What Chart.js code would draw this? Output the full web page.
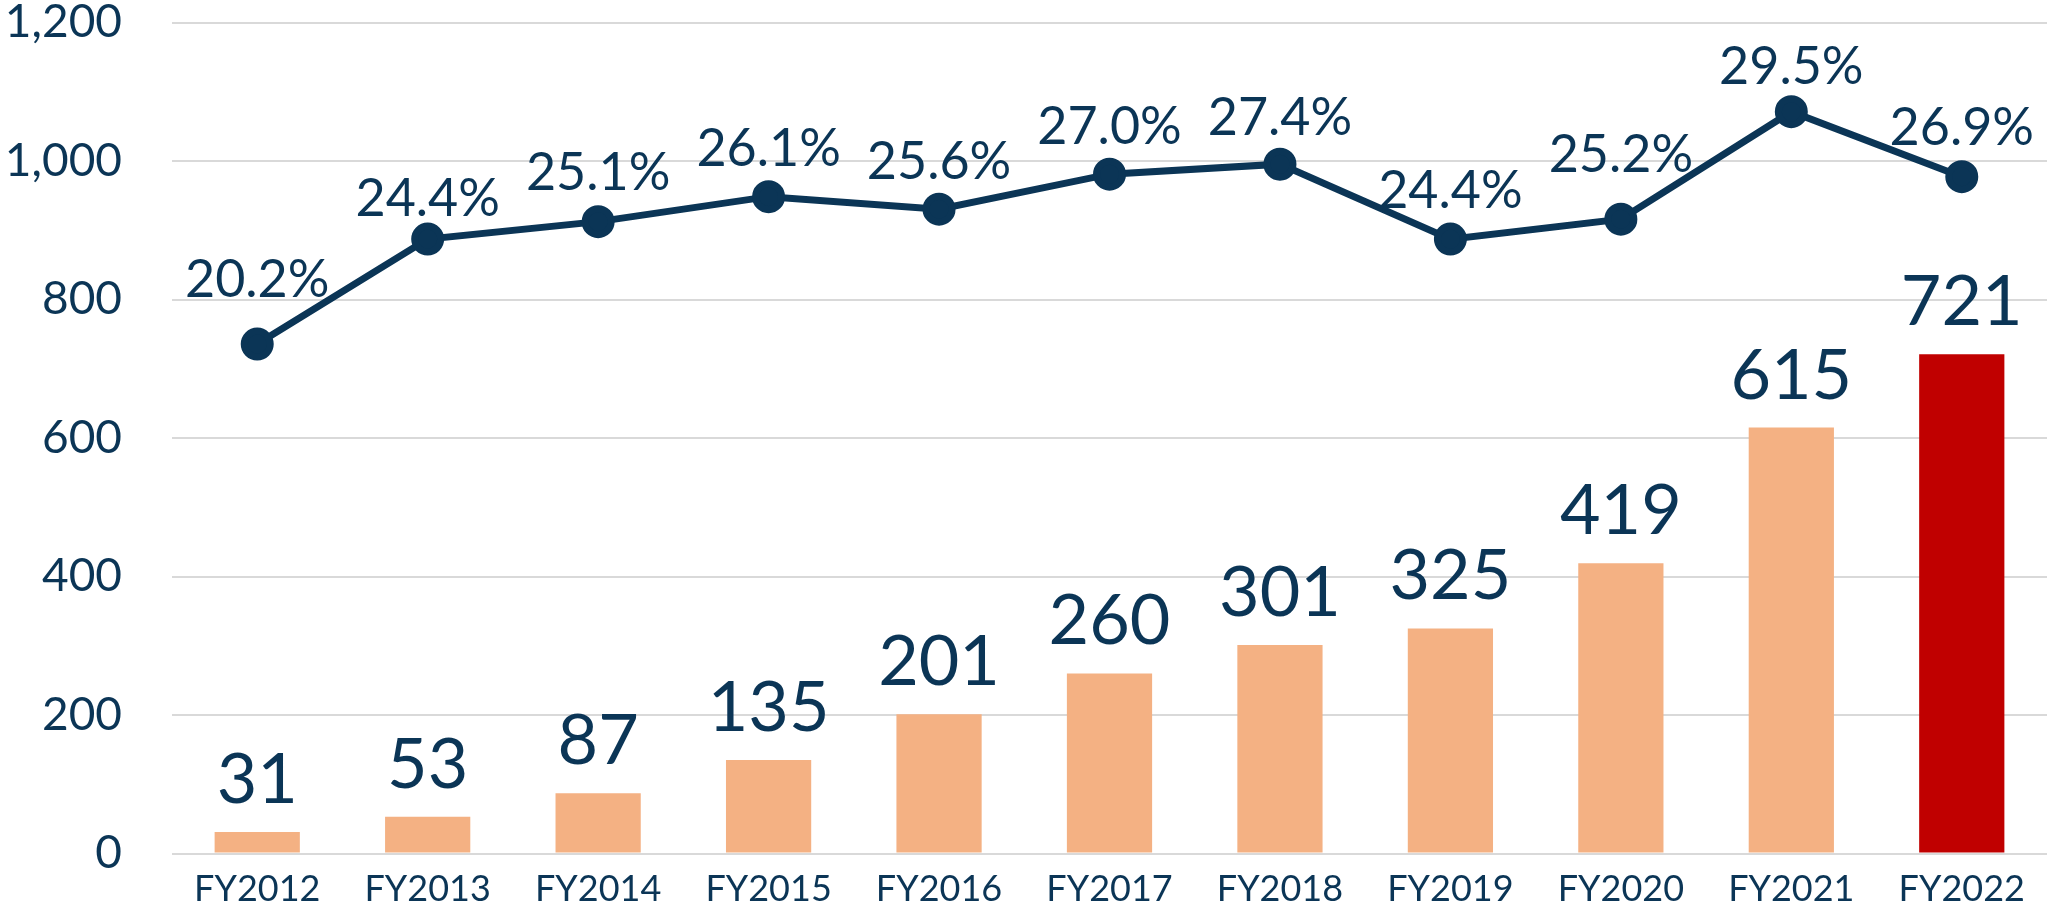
<!DOCTYPE html>
<html>
<head>
<meta charset="utf-8">
<script src="https://cdn.jsdelivr.net/npm/chart.js@4/dist/chart.umd.min.js"></script>
<style>
  html, body { margin: 0; padding: 0; background: #fff; }
  #wrap { width: 2049px; height: 907px; }
</style>
</head>
<body>
<div id="wrap"><canvas id="grafico"></canvas></div>
<script>
// dados do gráfico
const anos = ["FY2012", "FY2013", "FY2014", "FY2015", "FY2016", "FY2017", "FY2018", "FY2019", "FY2020", "FY2021", "FY2022"];
const valores = [31, 53, 87, 135, 201, 260, 301, 325, 419, 615, 721];
const percentuais = [20.2, 24.4, 25.1, 26.1, 25.6, 27.0, 27.4, 24.4, 25.2, 29.5, 26.9];
const ticksY = [0, 200, 400, 600, 800, 1000, 1200];

const azul = "#0B3556";
const laranja = "#F4B183";
const vermelho = "#C00000";
const fonte = "Lato, 'Noto Sans', sans-serif";

// última barra em destaque
const coresBarras = valores.map((v, i) => (i === valores.length - 1 ? vermelho : laranja));

// rótulos de valor em cima das barras e acima dos pontos da linha
const rotulos = {
  id: "rotulos",
  afterDatasetsDraw(chart) {
    const ctx = chart.ctx;
    ctx.save();
    ctx.fillStyle = azul;
    ctx.textAlign = "center";
    ctx.textBaseline = "alphabetic";

    ctx.font = "70px " + fonte;
    chart.getDatasetMeta(1).data.forEach((bar, i) => {
      ctx.fillText(String(valores[i]), bar.x, bar.y - 29);
    });

    // deslocamento de cada rótulo de porcentagem acima do ponto
    const lift = [66, 42, 51, 50, 49, 49, 48, 50, 66, 47, 51];
    ctx.font = "52px " + fonte;
    chart.getDatasetMeta(0).data.forEach((pt, i) => {
      ctx.fillText(percentuais[i].toFixed(1) + "%", pt.x, pt.y - lift[i] + 19);
    });
    ctx.restore();
  }
};

const ctx = document.getElementById("grafico");
const chart = new Chart(ctx, {
  data: {
    labels: anos,
    datasets: [
      {
        type: "line",
        label: "%",
        data: percentuais,
        yAxisID: "y2",
        borderColor: azul,
        backgroundColor: azul,
        borderWidth: 7,
        pointRadius: 13,
        pointHoverRadius: 13,
        tension: 0,
        order: 0
      },
      {
        type: "bar",
        label: "valor",
        data: valores,
        yAxisID: "y",
        backgroundColor: coresBarras,
        categoryPercentage: 1,
        barPercentage: 0.5,
        order: 1
      }
    ]
  },
  options: {
    responsive: true,
    maintainAspectRatio: false,
    animation: false,
    layout: { autoPadding: false, padding: { top: 22.5, right: 2, left: 0, bottom: 0 } },
    plugins: {
      legend: { display: false },
      tooltip: { enabled: false }
    },
    scales: {
      x: {
        grid: { display: false, drawTicks: false },
        border: { display: false },
        ticks: { color: azul, font: { family: fonte, size: 36 }, padding: 14, maxRotation: 0 },
        afterFit(scale) {
          scale.height = 53.5;
          scale.paddingLeft = 0;
          scale.paddingRight = 0;
        }
      },
      y: {
        min: 0,
        max: 1200,
        afterBuildTicks(scale) { scale.ticks = ticksY.map((v) => ({ value: v })); },
        grid: { color: "#D9D9D9", lineWidth: 2, drawTicks: false },
        border: { display: false },
        ticks: {
          color: azul,
          font: { family: fonte, size: 46 },
          padding: 50,
          callback: (v) => v.toLocaleString("en-US")
        },
        afterFit(scale) {
          scale.width = 172;
          scale.paddingTop = 0;
          scale.paddingBottom = 0;
        }
      },
      y2: {
        display: false,
        min: -0.19,
        max: 33.07
      }
    }
  },
  plugins: [rotulos]
});
</script>
</body>
</html>
